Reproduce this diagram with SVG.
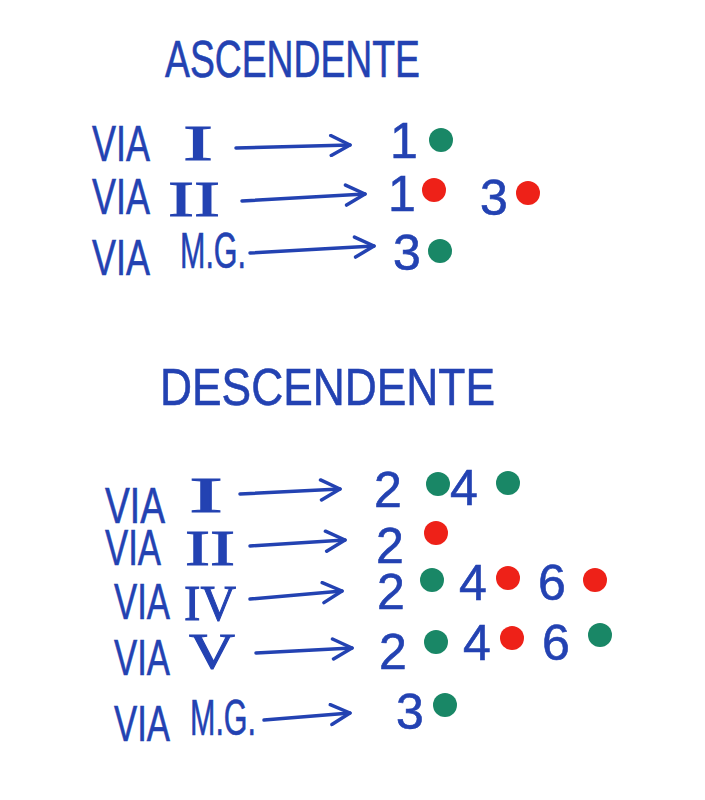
<svg xmlns="http://www.w3.org/2000/svg" width="705" height="800" viewBox="0 0 705 800">
<defs>
<style>
.t{font-family:"Liberation Sans","DejaVu Sans",sans-serif;fill:#2342b2;stroke:#2342b2;stroke-width:0.6}
.title{font-size:52px}
.via{font-size:50px}
.rom{font-family:"Liberation Serif","DejaVu Serif",serif;font-size:50px;fill:#2342b2;stroke:#2342b2;stroke-width:1}
.num{font-size:50px}
.g{fill:#198766}
.r{fill:#ee2118}
.arr{fill:none;stroke:#2342b2;stroke-width:3.5;stroke-linecap:round;marker-end:url(#ah)}
</style>
<marker id="ah" viewBox="0 0 24 24" refX="22" refY="12" markerWidth="24" markerHeight="24" markerUnits="userSpaceOnUse" orient="auto">
<path d="M3,2 L22,12 L3,22" fill="none" stroke="#2342b2" stroke-width="3.5" stroke-linecap="round" stroke-linejoin="round"/>
</marker>
</defs>
<rect width="705" height="800" fill="#ffffff"/>

<g id="title-asc"><text class="t title" x="165" y="77" textLength="255" lengthAdjust="spacingAndGlyphs">ASCENDENTE</text></g>

<g id="asc-via1"><text class="t via" x="92" y="161" textLength="58" lengthAdjust="spacingAndGlyphs">VIA</text><text class="rom" x="198" y="160" text-anchor="middle" textLength="30" lengthAdjust="spacingAndGlyphs">I</text></g>
<g id="asc-res1"><text class="t num" x="390" y="158">1</text><circle class="g" cx="441" cy="140" r="12"/></g>

<g id="asc-via2"><text class="t via" x="92" y="214" textLength="58" lengthAdjust="spacingAndGlyphs">VIA</text><text class="rom" x="194" y="216" text-anchor="middle" textLength="52" lengthAdjust="spacingAndGlyphs">II</text></g>
<g id="asc-res2"><text class="t num" x="388" y="211">1</text><circle class="r" cx="434" cy="190" r="12"/><text class="t num" x="480" y="215">3</text><circle class="r" cx="528" cy="193" r="12"/></g>

<g id="asc-via3"><text class="t via" x="92" y="275" textLength="58" lengthAdjust="spacingAndGlyphs">VIA</text><text class="t via" x="180" y="268" textLength="66" lengthAdjust="spacingAndGlyphs">M.G.</text></g>
<g id="asc-res3"><text class="t num" x="393" y="270">3</text><circle class="g" cx="440" cy="251" r="12"/></g>

<g id="title-desc"><text class="t title" x="160" y="405" textLength="335" lengthAdjust="spacingAndGlyphs">DESCENDENTE</text></g>

<g id="desc-via1"><text class="t via" x="105" y="523" textLength="60" lengthAdjust="spacingAndGlyphs">VIA</text><text class="rom" x="206" y="512" text-anchor="middle" textLength="34" lengthAdjust="spacingAndGlyphs">I</text></g>
<g id="desc-res1"><text class="t num" x="374" y="507">2</text><circle class="g" cx="438" cy="484" r="12"/><text class="t num" x="450" y="505">4</text><circle class="g" cx="508" cy="483" r="12"/></g>

<g id="desc-via2"><text class="t via" x="105" y="565" textLength="56" lengthAdjust="spacingAndGlyphs">VIA</text><text class="rom" x="210" y="565" text-anchor="middle" textLength="50" lengthAdjust="spacingAndGlyphs">II</text></g>
<g id="desc-res2"><text class="t num" x="376" y="563">2</text><circle class="r" cx="436" cy="533" r="12"/></g>

<g id="desc-via3"><text class="t via" x="114" y="619" textLength="56" lengthAdjust="spacingAndGlyphs">VIA</text><text class="rom" x="210" y="620" text-anchor="middle" textLength="52" lengthAdjust="spacingAndGlyphs">IV</text></g>
<g id="desc-res3"><text class="t num" x="377" y="609">2</text><circle class="g" cx="432" cy="580" r="12"/><text class="t num" x="459" y="600">4</text><circle class="r" cx="508" cy="578" r="12"/><text class="t num" x="538" y="600">6</text><circle class="r" cx="595" cy="580" r="12"/></g>

<g id="desc-via4"><text class="t via" x="114" y="675" textLength="56" lengthAdjust="spacingAndGlyphs">VIA</text><text class="rom" x="212" y="668" text-anchor="middle" textLength="46" lengthAdjust="spacingAndGlyphs">V</text></g>
<g id="desc-res4"><text class="t num" x="379" y="669">2</text><circle class="g" cx="436" cy="642" r="12"/><text class="t num" x="463" y="660">4</text><circle class="r" cx="512" cy="638" r="12"/><text class="t num" x="542" y="660">6</text><circle class="g" cx="600" cy="635" r="12"/></g>

<g id="desc-via5"><text class="t via" x="114" y="741" textLength="56" lengthAdjust="spacingAndGlyphs">VIA</text><text class="t via" x="190" y="735" textLength="66" lengthAdjust="spacingAndGlyphs">M.G.</text></g>
<g id="desc-res5"><text class="t num" x="396" y="729">3</text><circle class="g" cx="445" cy="705" r="12"/></g>

<g id="connectors">
<path class="arr" d="M236,148 L350,145"/>
<path class="arr" d="M242,201 L365,194"/>
<path class="arr" d="M250,253 L374,246"/>
<path class="arr" d="M240,494 L340,489"/>
<path class="arr" d="M250,546 L345,540"/>
<path class="arr" d="M250,599 L342,591"/>
<path class="arr" d="M256,653 L352,648"/>
<path class="arr" d="M264,720 L350,713"/>
</g>
</svg>
